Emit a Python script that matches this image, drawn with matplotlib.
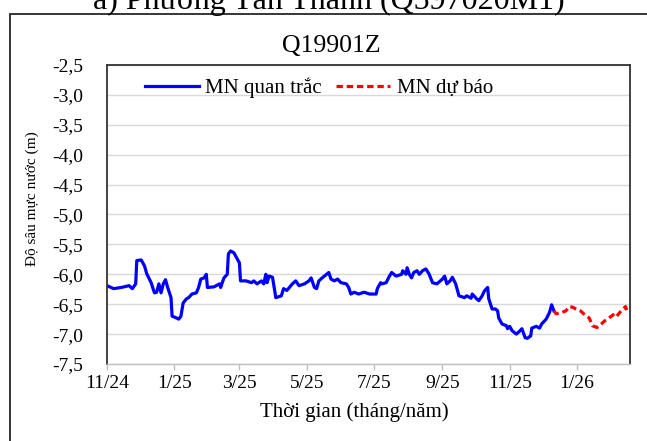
import datetime as dt
import matplotlib
matplotlib.use('Agg')
import matplotlib.pyplot as plt
import matplotlib.dates as mdates
from matplotlib.ticker import FuncFormatter, MultipleLocator
from matplotlib.patches import Rectangle

plt.rcParams['font.family'] = ['Liberation Serif', 'DejaVu Serif']

# Well Q19901Z - depth to groundwater (m), days counted from 1/11/2024
start = dt.date(2024, 11, 1)

obs_day = [0, 6, 13, 20, 23, 26, 27, 31, 34, 36, 40, 43, 45, 47, 49, 51, 53, 55, 58, 59,
           63, 65, 67, 69, 72, 74, 77, 81, 83, 85, 88, 90, 91, 97, 102, 103, 106, 109, 110, 112,
           115, 118, 120, 121, 126, 131, 133, 136, 140, 142, 144, 145, 147, 150, 153, 158, 160, 163, 168, 171,
           174, 179, 183, 185, 188, 190, 192, 195, 199, 201, 203, 206, 209, 212, 217, 219, 221, 224, 228, 233,
           238, 244, 245, 248, 249, 253, 256, 258, 262, 267, 268, 271, 272, 274, 276, 278, 281, 283, 286, 289,
           292, 295, 299, 304, 306, 308, 311, 313, 316, 319, 324, 326, 330, 331, 335, 337, 340, 342, 345, 346,
           349, 352, 354, 355, 358, 362, 363, 365, 367, 371, 374, 376, 379, 381, 384, 385, 389, 392, 394, 398,
           401, 403, 405]
obs_depth = [-6.19, -6.24, -6.22, -6.19, -6.24, -6.16, -5.77, -5.76, -5.86, -5.99, -6.14, -6.31, -6.30, -6.16, -6.31, -6.16, -6.09, -6.22, -6.39, -6.70,
             -6.73, -6.75, -6.70, -6.48, -6.41, -6.39, -6.33, -6.31, -6.22, -6.08, -6.06, -6.00, -6.22, -6.21, -6.16, -6.22, -6.06, -6.00, -5.66, -5.61,
             -5.64, -5.74, -5.81, -6.11, -6.11, -6.14, -6.11, -6.16, -6.11, -6.16, -6.00, -6.14, -6.03, -6.05, -6.39, -6.36, -6.24, -6.27, -6.16, -6.11,
             -6.19, -6.16, -6.11, -6.06, -6.22, -6.24, -6.11, -6.06, -6.00, -5.97, -6.08, -6.11, -6.08, -6.14, -6.16, -6.22, -6.33, -6.30, -6.33, -6.30,
             -6.33, -6.33, -6.24, -6.14, -6.16, -6.14, -6.03, -5.97, -6.03, -6.00, -5.94, -6.00, -5.89, -6.00, -6.06, -5.97, -5.94, -6.00, -5.94, -5.91,
             -6.00, -6.14, -6.16, -6.08, -6.03, -6.16, -6.11, -6.05, -6.16, -6.36, -6.39, -6.36, -6.40, -6.33, -6.41, -6.44, -6.36, -6.28, -6.22, -6.41,
             -6.58, -6.58, -6.61, -6.73, -6.83, -6.86, -6.91, -6.87, -6.94, -7.00, -6.95, -6.91, -7.06, -7.07, -7.03, -6.90, -6.87, -6.90, -6.83, -6.75,
             -6.64, -6.51, -6.61]

fc_day = [405, 407, 412, 416, 419, 422, 425, 429, 432, 437, 440, 444, 448, 451, 455, 460, 462, 466, 470, 471, 474]
fc_depth = [-6.61, -6.66, -6.64, -6.61, -6.54, -6.55, -6.58, -6.61, -6.66, -6.73, -6.86, -6.89, -6.83, -6.78, -6.73, -6.66, -6.70, -6.61, -6.54, -6.61, -6.62]

obs_dates = [start + dt.timedelta(days=d) for d in obs_day]
fc_dates = [start + dt.timedelta(days=d) for d in fc_day]

fig = plt.figure(figsize=(6.47, 4.41), dpi=100)
W, H = 647, 441
ax = fig.add_axes([107 / W, 1 - 364 / H, 523 / W, 299 / H])

# outer frame of the panel (cut off on the right and bottom)
fig.patches.append(Rectangle((10 / W, -0.1), 1.2, 1 - 14 / H + 0.1, transform=fig.transFigure,
                             fill=False, edgecolor='#262626', linewidth=1.3))

ax.plot(obs_dates, obs_depth, color='#0000FF', linewidth=2.3, label='MN quan trắc')
ax.plot(fc_dates, fc_depth, color='#FF0000', linewidth=2.3, linestyle=(0, (2.0, 1.2)), label='MN dự báo')

ax.set_xlim(start, start + dt.timedelta(days=474))
ax.set_ylim(-7.5, -2.5)
ax.yaxis.set_major_locator(MultipleLocator(0.5))
ax.yaxis.set_major_formatter(FuncFormatter(lambda v, p: f'{v:.1f}'.replace('.', ',')))
ax.xaxis.set_major_locator(mdates.MonthLocator(bymonth=[1, 3, 5, 7, 9, 11]))
ax.xaxis.set_major_formatter(FuncFormatter(
    lambda v, p: f'{mdates.num2date(v).month}/{mdates.num2date(v):%y}'))

ax.yaxis.grid(True, color='#d9d9d9', linewidth=1.0)
ax.set_axisbelow(True)
for side in ['left', 'right', 'top']:
    ax.spines[side].set_color('#333333')
    ax.spines[side].set_linewidth(1.3)
ax.spines['bottom'].set_color('#bfbfbf')
ax.spines['bottom'].set_linewidth(1.0)

ax.tick_params(axis='y', length=0, pad=17, labelsize=14)
ax.tick_params(axis='x', length=4, width=1.0, color='#bfbfbf', direction='out', pad=4, labelsize=14)

ax.legend(loc='center', bbox_to_anchor=(0.405, 0.923), ncol=2, frameon=False, fontsize=15,
          handlelength=2.6, handletextpad=0.3, columnspacing=0.7, borderaxespad=0)

fig.text(32 / W, 1 - 199 / H, 'Độ sâu mực nước (m)', rotation=90, ha='center', va='center', fontsize=11)
fig.text(354 / W, 1 - 412 / H, 'Thời gian (tháng/năm)', ha='center', va='center', fontsize=15)
fig.text(331 / W, 1 - 46 / H, 'Q19901Z', ha='center', va='center', fontsize=18.5)
fig.text(329 / W, 1 - 9 / H, 'a) Phường Tân Thành (Q597020M1)', ha='center', va='baseline', fontsize=23)

fig.savefig('out.png', dpi=100)
